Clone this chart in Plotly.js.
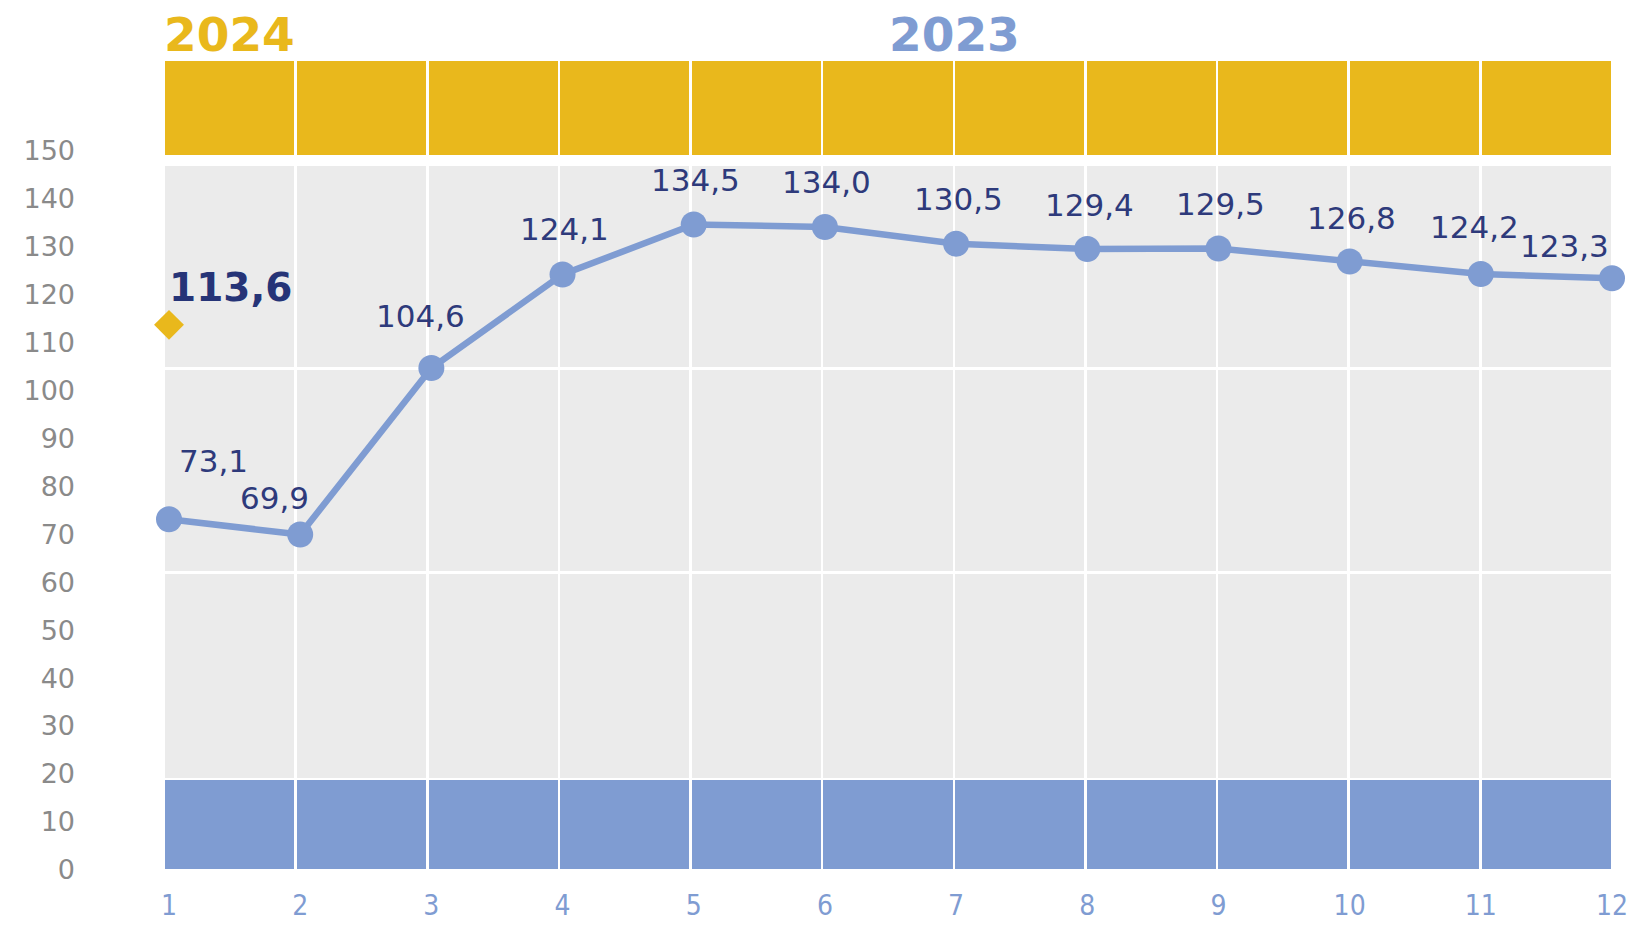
<!DOCTYPE html>
<html>
<head>
<meta charset="utf-8">
<script src="https://cdn.plot.ly/plotly-3.0.1.min.js"></script>
<style>
  html, body { margin: 0; padding: 0; background: #ffffff; }
  #chart { width: 1634px; height: 926px; }
</style>
</head>
<body>
<div id="chart"></div>
<script>
// ---- data ----
const months = [1, 2, 3, 4, 5, 6, 7, 8, 9, 10, 11, 12];
const monthLabels = ["1", "2", "3", "4", "5", "6", "7", "8", "9", "10", "11", "12"];
const values2023 = [73.1, 69.9, 104.6, 124.1, 134.5, 134.0, 130.5, 129.4, 129.5, 126.8, 124.2, 123.3];
const labels2023 = ["73,1", "69,9", "104,6", "124,1", "134,5", "134,0", "130,5", "129,4", "129,5", "126,8", "124,2", "123,3"];
const months2024 = [1];
const values2024 = [113.6];
const labels2024 = ["113,6"];
const yTickVals = [0, 10, 20, 30, 40, 50, 60, 70, 80, 90, 100, 110, 120, 130, 140, 150];
const yTickText = ["0", "10", "20", "30", "40", "50", "60", "70", "80", "90", "100", "110", "120", "130", "140", "150"];
// background band columns (11 columns) and band heights
const bandColumns = [0.5, 1.5, 2.5, 3.5, 4.5, 5.5, 6.5, 7.5, 8.5, 9.5, 10.5];
const bandBlue = 19;
const bandGrey = [43, 42.5, 42.5];
const bandGap = 1.75;
const bandYellow = 20;
const seriesNames = ["2024", "2023"];

// ---- styles / label offsets (pixels) ----
const COL_BLUE = "#7F9CD2";
const COL_GOLD = "#E9B81C";
const COL_GREY = "#EBEBEB";
const COL_NAVY = "#2E3A7B";
const labelDx = [44, -26, -11, 2, 2, 2, 2, 2, 2, 2, -6, -48];
const labelDy = [58, 37, 52, 45, 45, 45, 45, 44, 45, 44, 47, 32];

const fill = v => bandColumns.map(() => v);

const bandTrace = (h, color, lineW) => ({
  type: "bar", x: bandColumns, y: fill(h), width: 1,
  xaxis: "x", yaxis: "y",
  marker: { color: color, line: { color: "#ffffff", width: lineW } },
  hoverinfo: "skip", showlegend: false
});

const traces = [
  bandTrace(bandBlue, COL_BLUE, 2.5),
  bandTrace(bandGrey[0], COL_GREY, 2.5),
  bandTrace(bandGrey[1], COL_GREY, 2.5),
  bandTrace(bandGrey[2], COL_GREY, 2.5),
  bandTrace(bandGap, "rgba(0,0,0,0)", 0),
  bandTrace(bandYellow, COL_GOLD, 2.5),
  {
    type: "scatter", mode: "lines+markers", name: seriesNames[1],
    x: months, y: values2023, xaxis: "x2", yaxis: "y",
    line: { color: COL_BLUE, width: 6.5 },
    marker: { color: COL_BLUE, size: 26 },
    cliponaxis: false, hoverinfo: "skip", showlegend: false
  },
  {
    type: "scatter", mode: "markers", name: seriesNames[0],
    x: months2024, y: values2024, xaxis: "x2", yaxis: "y",
    marker: { color: COL_GOLD, size: 23, symbol: "diamond" },
    cliponaxis: false, hoverinfo: "skip", showlegend: false
  }
];

const annotations = months.map((m, i) => ({
  x: m, y: values2023[i], xref: "x2", yref: "y",
  text: labels2023[i], showarrow: false,
  xanchor: "center", yanchor: "middle",
  xshift: labelDx[i], yshift: labelDy[i],
  font: { family: "DejaVu Sans, Verdana, sans-serif", size: 31, color: COL_NAVY }
}));
annotations.push({
  x: months2024[0], y: values2024[0], xref: "x2", yref: "y",
  text: "<b>" + labels2024[0] + "</b>", showarrow: false,
  xanchor: "center", yanchor: "middle", xshift: 61, yshift: 37,
  font: { family: "DejaVu Sans, Verdana, sans-serif", size: 39, color: "#263477" }
});
annotations.push({
  x: 0.0454, y: 1.0296, xref: "paper", yref: "paper",
  text: "<b>" + seriesNames[0] + "</b>", showarrow: false,
  xanchor: "center", yanchor: "middle",
  font: { family: "DejaVu Sans, Verdana, sans-serif", size: 47, color: COL_GOLD }
});
annotations.push({
  x: 0.5457, y: 1.0296, xref: "paper", yref: "paper",
  text: "<b>" + seriesNames[1] + "</b>", showarrow: false,
  xanchor: "center", yanchor: "middle",
  font: { family: "DejaVu Sans, Verdana, sans-serif", size: 47, color: COL_BLUE }
});

const layout = {
  width: 1634, height: 926,
  margin: { l: 164, r: 22.4, t: 59.3, b: 55.5, pad: 0 },
  paper_bgcolor: "#ffffff", plot_bgcolor: "#ffffff",
  barmode: "stack", bargap: 0, showlegend: false,
  xaxis: {
    range: [0, 11], visible: false, showgrid: false, zeroline: false
  },
  xaxis2: {
    overlaying: "x", anchor: "y", side: "bottom",
    range: [0.9619, 12], tickvals: months, ticktext: monthLabels,
    showgrid: false, zeroline: false, showline: false, ticks: "",
    ticklabelstandoff: 16,
    tickfont: { family: "DejaVu Sans Condensed, Liberation Sans Narrow, sans-serif", size: 28, color: COL_BLUE }
  },
  yaxis: {
    range: [0, 169], tickvals: yTickVals, ticktext: yTickText,
    showgrid: false, zeroline: false, showline: false, ticks: "",
    ticklabelstandoff: 88,
    tickfont: { family: "DejaVu Sans, Verdana, sans-serif", size: 27, color: "#8A8A8A" }
  },
  annotations: annotations
};

Plotly.newPlot("chart", traces, layout, { staticPlot: true, displayModeBar: false });
</script>
</body>
</html>
